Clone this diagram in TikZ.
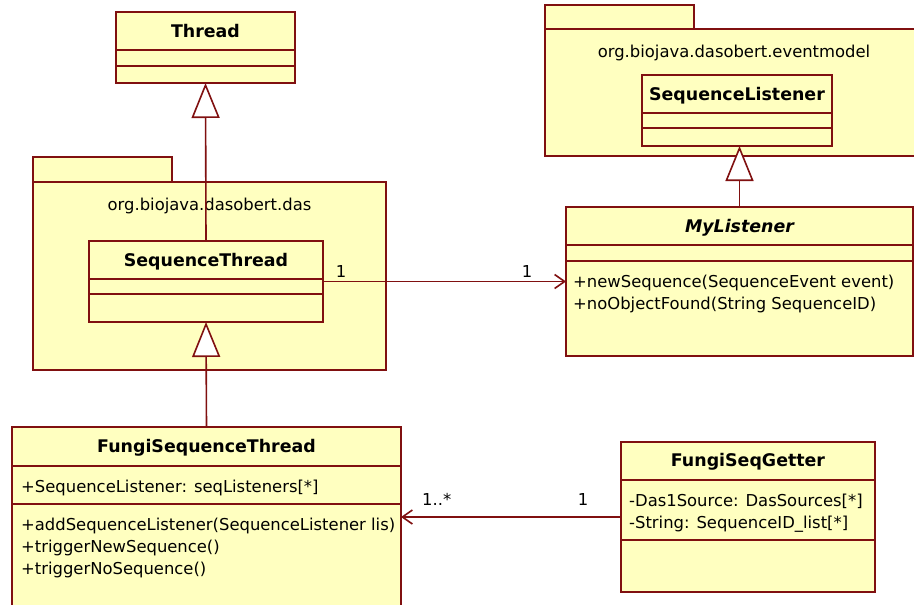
\documentclass[tikz,border=0pt]{standalone}
\usepackage{fontspec}
\setmainfont{DejaVu Sans}
\usetikzlibrary{arrows.meta}
\definecolor{umlline}{RGB}{128,16,16}
\definecolor{umlfill}{RGB}{255,255,192}
\begin{document}
\begin{tikzpicture}[x=1pt,y=-1pt,
  box/.style={draw=umlline, fill=umlfill, line width=1.6pt, anchor=north west,
              inner sep=0pt, outer sep=0pt},
  txt/.style={anchor=base west, inner sep=0pt, font=\fontsize{16.4}{19}\selectfont},
  ctxt/.style={anchor=base, inner sep=0pt, font=\fontsize{16.4}{19}\selectfont},
  title/.style={anchor=base, inner sep=0pt, font=\fontsize{17.4}{20}\selectfont\bfseries},
  div/.style={draw=umlline, line width=1.6pt},
  gen/.style={draw=umlline, line width=1.6pt,
              -{Triangle[length=35pt,width=28pt,fill=white,line width=1.6pt]}},
  assoc/.style={draw=umlline, line width=1.6pt,
              -{Straight Barb[length=10pt,width=14pt,line width=1.6pt]}},
]
\useasboundingbox (0,0) rectangle (914,605);
\fill[white] (0,0) rectangle (914,605);
\clip (0,0) rectangle (914,605);

% ---------- package org.biojava.dasobert.das ----------
\node[box, minimum width=139pt, minimum height=25pt] (dastab) at (33,157) {};
\node[box, minimum width=353pt, minimum height=188pt] (daspkg) at (33,182) {};
\node[ctxt] (daslabel) at (209.5,210) {org.biojava.dasobert.das};

% ---------- package org.biojava.dasobert.eventmodel ----------
\node[box, minimum width=149pt, minimum height=24pt] (evtab) at (545,5) {};
\node[box, minimum width=380pt, minimum height=127pt] (evpkg) at (545,29) {};
\node[ctxt] (evlabel) at (734,57) {org.biojava.dasobert.eventmodel};

% ---------- Thread ----------
\node[box, minimum width=179pt, minimum height=71pt] (thread) at (116,12) {};
\draw[div] (thread.west |- 0,50) -- (thread.east |- 0,50);
\draw[div] (thread.west |- 0,66) -- (thread.east |- 0,66);
\node[title] (threadname) at (205.5,37) {Thread};

% ---------- SequenceThread ----------
\node[box, minimum width=234pt, minimum height=81pt] (seqthread) at (89,241) {};
\draw[div] (seqthread.west |- 0,279) -- (seqthread.east |- 0,279);
\draw[div] (seqthread.west |- 0,294) -- (seqthread.east |- 0,294);
\node[title] (seqthreadname) at (206,266) {SequenceThread};

% ---------- SequenceListener ----------
\node[box, minimum width=190pt, minimum height=71pt] (seqlistener) at (642,75) {};
\draw[div] (seqlistener.west |- 0,113) -- (seqlistener.east |- 0,113);
\draw[div] (seqlistener.west |- 0,128) -- (seqlistener.east |- 0,128);
\node[title] (seqlistenername) at (737,100) {SequenceListener};

% ---------- MyListener ----------
\node[box, minimum width=347pt, minimum height=149pt] (mylistener) at (566,207) {};
\draw[div] (mylistener.west |- 0,245) -- (mylistener.east |- 0,245);
\draw[div] (mylistener.west |- 0,261) -- (mylistener.east |- 0,261);
\node[title, font=\fontsize{17.4}{20}\selectfont\bfseries\itshape] (mylistenername) at (739.5,232) {MyListener};
\node[txt] (mlop1) at (573,287) {+newSequence(SequenceEvent event)};
\node[txt] (mlop2) at (573,309) {+noObjectFound(String SequenceID)};

% ---------- FungiSequenceThread ----------
\node[box, minimum width=389pt, minimum height=200pt] (fst) at (12,427) {};
\draw[div] (fst.west |- 0,466) -- (fst.east |- 0,466);
\draw[div] (fst.west |- 0,504) -- (fst.east |- 0,504);
\node[title] (fstname) at (206.5,452) {FungiSequenceThread};
\node[txt] (fstattr) at (21,492) {+SequenceListener: seqListeners[*]};
\node[txt] (fstop1) at (21,530) {+addSequenceListener(SequenceListener lis)};
\node[txt] (fstop2) at (21,552) {+triggerNewSequence()};
\node[txt] (fstop3) at (21,574) {+triggerNoSequence()};

% ---------- FungiSeqGetter ----------
\node[box, minimum width=254pt, minimum height=150pt] (fsg) at (621,442) {};
\draw[div] (fsg.west |- 0,480) -- (fsg.east |- 0,480);
\draw[div] (fsg.west |- 0,540) -- (fsg.east |- 0,540);
\node[title] (fsgname) at (748,466) {FungiSeqGetter};
\node[txt] (fsgattr1) at (629,506) {-Das1Source: DasSources[*]};
\node[txt] (fsgattr2) at (629,528) {-String: SequenceID\_list[*]};

% ---------- generalizations ----------
\draw[gen] (seqthread.north) -- (thread.south);
\draw[gen] (fst.north) -- (seqthread.south);
\draw[gen] (mylistener.north) -- (mylistener.north |- seqlistener.south);

% ---------- associations ----------
\draw[assoc] (seqthread.east) -- (mylistener.west);
\node[ctxt] (m1) at (341,277) {1};
\node[ctxt] (m2) at (527,277) {1};

\draw[assoc] (fsg.west) -- (fst.east |- fsg.west);
\node[txt] (m3) at (422,505) {1..*};
\node[ctxt] (m4) at (583,505) {1};
\end{tikzpicture}
\end{document}
